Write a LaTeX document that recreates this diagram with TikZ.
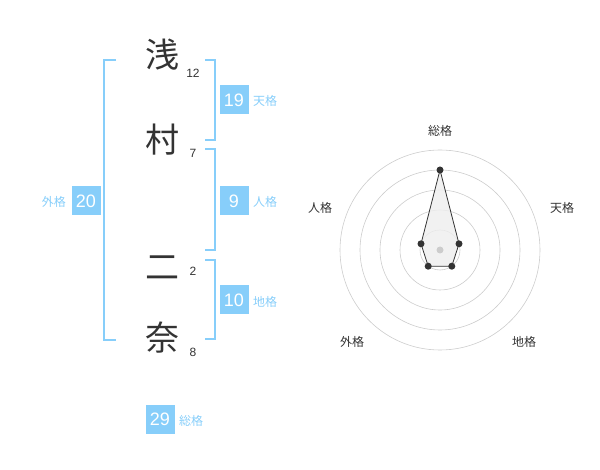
\documentclass[tikz,border=0pt]{standalone}
\usepackage{fontspec}
\setmainfont{Liberation Sans}
\newfontfamily\jp{Noto Sans CJK JP}
\definecolor{sky}{RGB}{135,206,250}
\definecolor{ink}{RGB}{51,51,51}
\definecolor{ring}{RGB}{204,204,204}
\definecolor{area}{RGB}{238,238,238}
\begin{document}
\begin{tikzpicture}[x=1pt,y=-1pt,
  kanji/.style={font=\jp\fontsize{34}{34}\selectfont, text=ink, inner sep=0pt},
  strokes/.style={font=\fontsize{12}{12}\selectfont, text=ink, inner sep=0pt},
  valbox/.style={fill=sky, text=white, minimum width=29pt, minimum height=29pt, inner sep=0pt, font=\fontsize{18}{18}\selectfont},
  lbl/.style={font=\jp\fontsize{12}{12}\selectfont, text=sky, inner sep=0pt},
  brk/.style={draw=sky, line width=1.5pt},
  rlbl/.style={font=\jp\fontsize{12}{12}\selectfont, text=ink, inner sep=0pt},
  ringline/.style={draw=ring, line width=0.6pt},
  dot/.style={circle, fill=ink, inner sep=0pt, minimum size=7pt}]
\useasboundingbox (0,0) rectangle (600,470);
% characters
\node[kanji] (c1) at (162,55) {浅};
\node[kanji] (c2) at (162,140) {村};
\node[kanji] (c3) at (162,268) {二};
\node[kanji] (c4) at (162,338) {奈};
\node[strokes] (n1) at (193,73) {12};
\node[strokes] (n2) at (193,153) {7};
\node[strokes] (n3) at (193,271) {2};
\node[strokes] (n4) at (193,352) {8};
% brackets
\draw[brk] (116,60) -- (104,60) -- (104,340) -- (116,340);
\draw[brk] (205,60) -- (215,60) -- (215,140) -- (205,140);
\draw[brk] (205,149) -- (215,149) -- (215,250) -- (205,250);
\draw[brk] (205,260) -- (215,260) -- (215,339) -- (205,339);
% value boxes
\node[valbox] (b19) at (234,100) {19};
\node[lbl, anchor=west] (l19) at (253,101) {天格};
\node[valbox] (b9) at (234,201) {9};
\node[lbl, anchor=west] (l9) at (253,202) {人格};
\node[valbox] (b10) at (234,300) {10};
\node[lbl, anchor=west] (l10) at (253,302) {地格};
\node[valbox] (b20) at (86,201) {20};
\node[lbl, anchor=east] (l20) at (66,202) {外格};
\node[valbox] (b29) at (160,419) {29};
\node[lbl, anchor=west] (l29) at (179,421) {総格};
% radar
\coordinate (o) at (440,250);
\foreach \r in {20,40,60,80,100} \draw[ringline] (o) circle[radius=\r];
\coordinate (p1) at (440,170);
\coordinate (p2) at (459.0,243.8);
\coordinate (p3) at (451.8,266.2);
\coordinate (p4) at (428.2,266.2);
\coordinate (p5) at (421.0,243.8);
\draw[draw=ink, fill=area, fill opacity=0.8, line width=0.8pt] (p1) -- (p2) -- (p3) -- (p4) -- (p5) -- cycle;
\fill[ring] (o) circle[radius=3.5];
\foreach \p in {p1,p2,p3,p4,p5} \node[dot] at (\p) {};
\node[rlbl] (r1) at (440,131) {総格};
\node[rlbl] (r2) at (562,208) {天格};
\node[rlbl] (r3) at (320,208) {人格};
\node[rlbl] (r4) at (352,342) {外格};
\node[rlbl] (r5) at (524,342) {地格};
\end{tikzpicture}
\end{document}
